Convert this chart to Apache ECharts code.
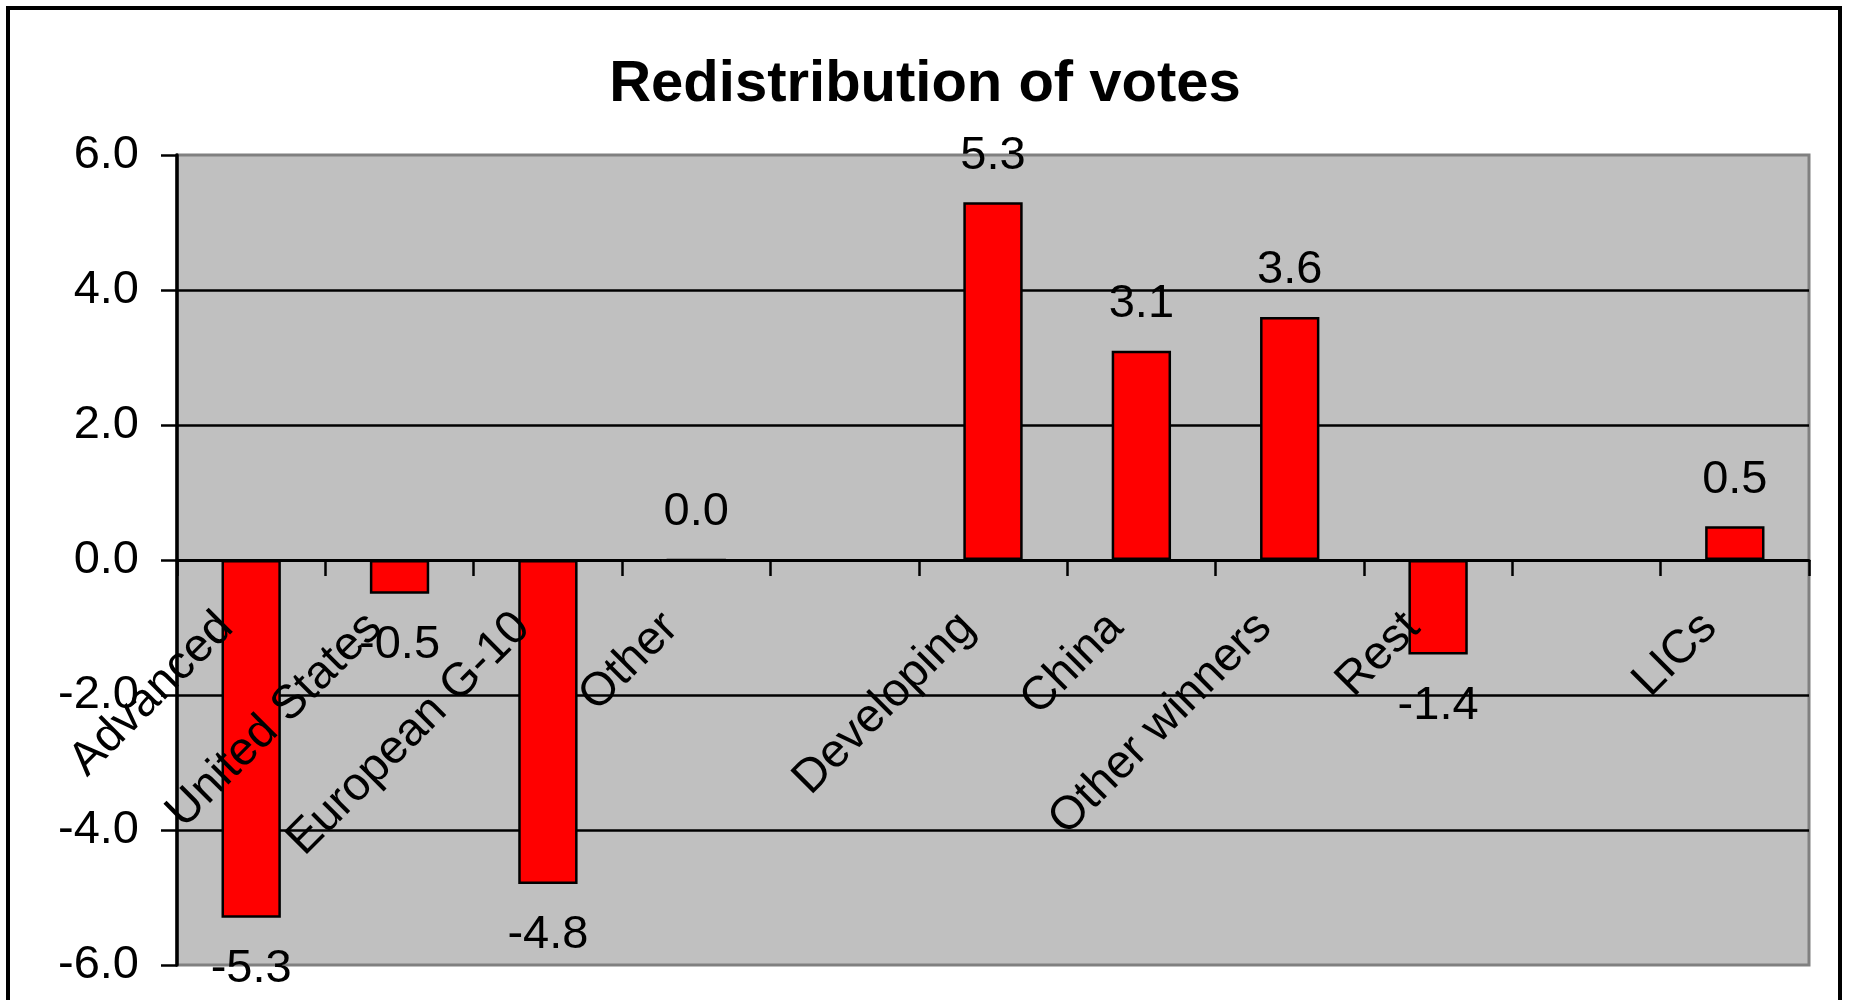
<!DOCTYPE html>
<html>
<head>
<meta charset="utf-8">
<script src="https://cdn.jsdelivr.net/npm/echarts@6/dist/echarts.min.js"></script>
<style>
html,body{margin:0;padding:0;background:#fff;}
#chart{width:1850px;height:1000px;}
</style>
</head>
<body>
<div id="chart"></div>
<script>
const titleText = 'Redistribution of votes';
const categories = ['Advanced','United States','European G-10','Other','','Developing','China','Other winners','Rest','','LICs'];
const values = [-5.3,-0.5,-4.8,0.0,null,5.3,3.1,3.6,-1.4,null,0.5];
const yTicks = [-6, -4, -2, 0, 2, 4, 6];

const FONT = "'Liberation Sans', Arial, sans-serif";
const W = 1850, H = 1000;
const GRID = { left: 177, right: 41, top: 155, bottom: 35 };
const yMin = yTicks[0], yMax = yTicks[yTicks.length - 1];
const gridH = H - GRID.top - GRID.bottom;
// move the category axis (line, ticks, labels) up to the zero value
const zeroOffset = -gridH * (0 - yMin) / (yMax - yMin);

const chart = echarts.init(document.getElementById('chart'), null, {renderer:'canvas', width: W, height: H});

const seriesData = values.map(v => v === null ? null : {
  value: v,
  label: v < 0 ? { position: 'bottom', distance: 28 } : { position: 'top', distance: 23 }
});

chart.setOption({
  animation: false,
  backgroundColor: '#ffffff',
  title: {
    text: titleText,
    left: 'center',
    top: 51,
    textStyle: { fontFamily: FONT, fontSize: 58, fontWeight: 'bold', color: '#000' }
  },
  graphic: [{
    type: 'rect',
    shape: { x: 8, y: 8, width: 1832, height: 1010 },
    style: { fill: 'none', stroke: '#000', lineWidth: 4 },
    z: 100
  }],
  grid: {
    left: GRID.left, right: GRID.right, top: GRID.top, bottom: GRID.bottom,
    containLabel: false, outerBoundsMode: 'none',
    show: true, backgroundColor: '#C0C0C0', borderColor: '#808080', borderWidth: 3
  },
  xAxis: {
    type: 'category',
    data: categories,
    z: 5,
    offset: zeroOffset,
    axisLine: { onZero: false, lineStyle: { color: '#000', width: 3 } },
    axisTick: { show: true, length: 16, lineStyle: { color: '#000', width: 2.5 } },
    axisLabel: {
      interval: 0, rotate: 45, margin: 35, hideOverlap: false,
      fontFamily: FONT, fontSize: 47, color: '#000',
      formatter: v => v ? '{c|' + v + '}' : '',
      rich: {
        c: { fontFamily: FONT, fontSize: 47, color: '#000', padding: [0, 36, 0, 0] }
      }
    },
    splitLine: { show: false }
  },
  yAxis: {
    type: 'value',
    min: yMin, max: yMax, interval: 2,
    axisLine: { show: true, lineStyle: { color: '#000', width: 3.5 } },
    axisTick: { show: true, length: 16, lineStyle: { color: '#000', width: 2.5 } },
    axisLabel: {
      margin: 38, fontFamily: FONT, fontSize: 47, color: '#000',
      formatter: v => v.toFixed(1)
    },
    splitLine: { show: true, showMinLine: false, showMaxLine: false, lineStyle: { color: '#000', width: 2.5 } }
  },
  series: [{
    type: 'bar',
    data: seriesData,
    barWidth: '40%',
    itemStyle: { color: '#FF0000', borderColor: '#000', borderWidth: 2.5 },
    label: {
      show: true,
      fontFamily: FONT, fontSize: 47, color: '#000',
      formatter: p => Number(p.value).toFixed(1)
    }
  }]
});
</script>
</body>
</html>
